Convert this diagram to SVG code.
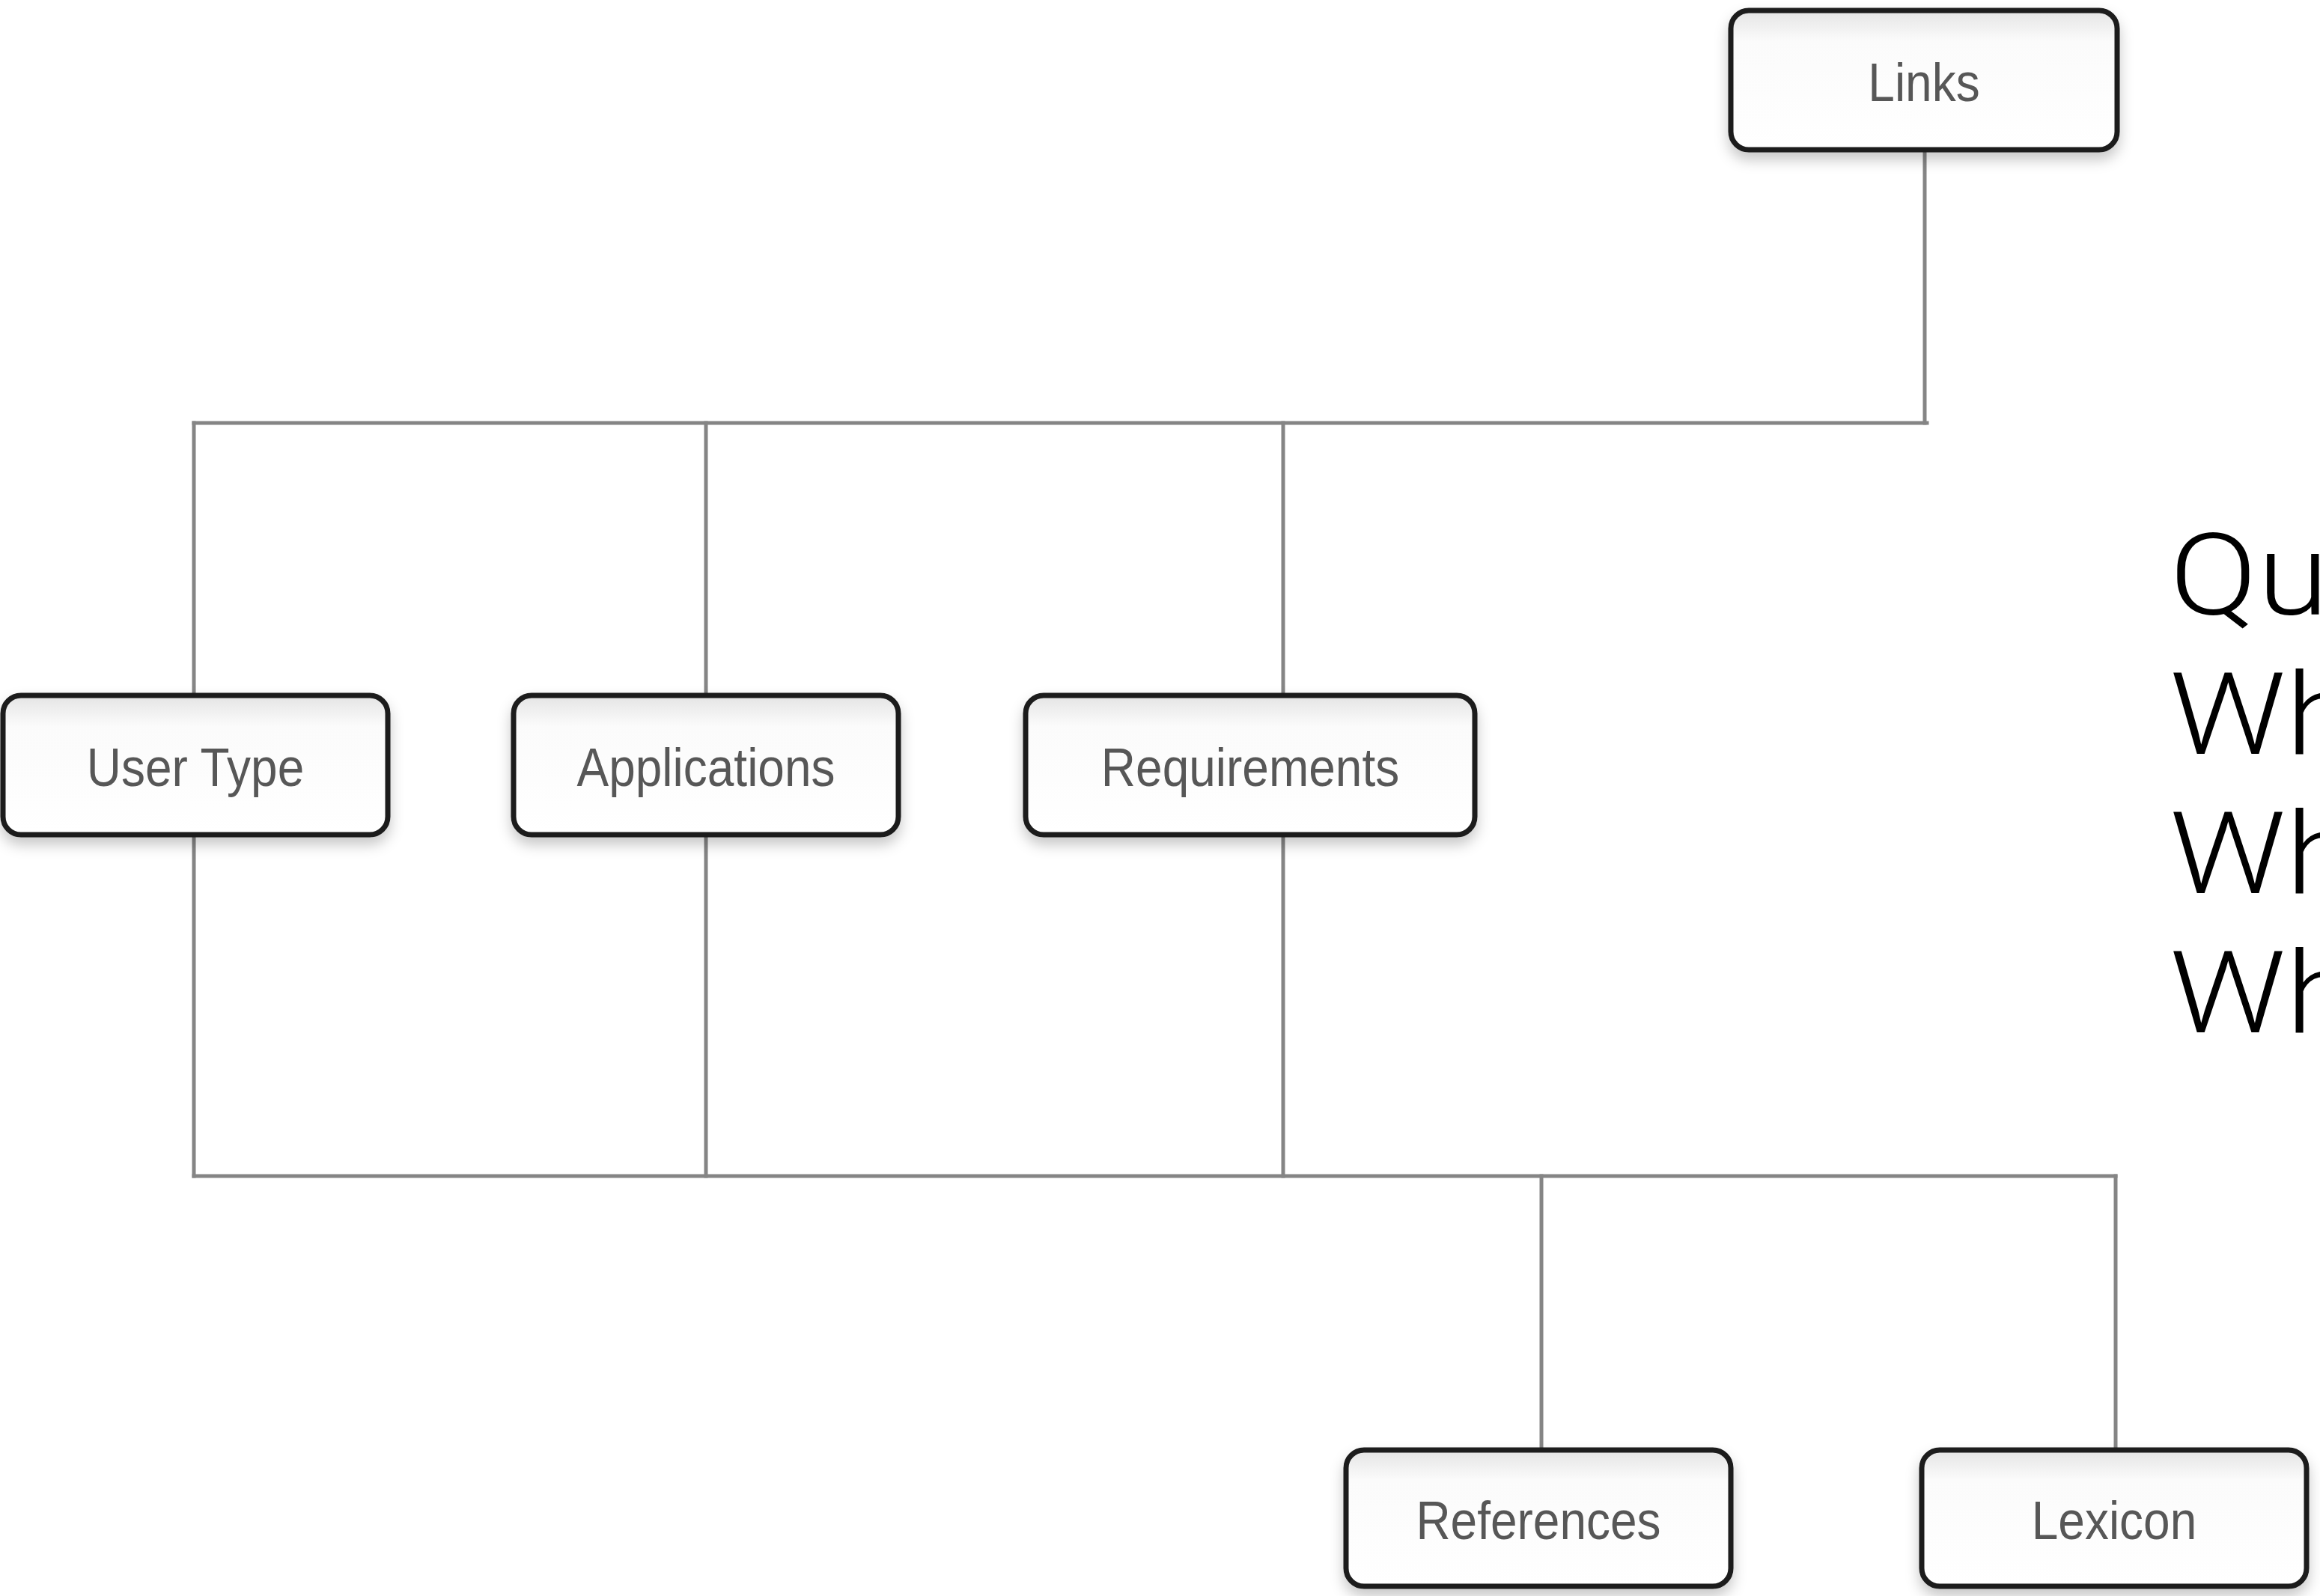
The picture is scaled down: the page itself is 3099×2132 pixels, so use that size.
<svg xmlns="http://www.w3.org/2000/svg" width="3099" height="2132" viewBox="0 0 3099 2132">
  <style>
    .box { fill: url(#boxfill); stroke: #1a1a1a; stroke-width: 7; filter: url(#shadow); }
    .lbl { font-family: "Liberation Sans", Arial, Helvetica, sans-serif; font-size: 64px; fill: #575757; text-anchor: middle; }
    .conn { stroke: #858585; stroke-width: 5; fill: none; stroke-linecap: square; }
    .side { font-family: Roboto, "Liberation Sans", sans-serif; font-weight: 300; font-size: 152px; fill: #000; }
  </style>
  <defs>
    <linearGradient id="boxfill" x1="0" y1="0" x2="0" y2="1">
      <stop offset="0" stop-color="#e4e4e4"/>
      <stop offset="0.22" stop-color="#fbfbfb"/>
      <stop offset="1" stop-color="#ffffff"/>
    </linearGradient>
    <filter id="shadow" x="-10%" y="-10%" width="120%" height="140%">
      <feDropShadow dx="0" dy="10" stdDeviation="9" flood-color="#000" flood-opacity="0.22"/>
    </filter>
  </defs>
  <rect x="0" y="0" width="3099" height="2132" fill="#ffffff"/>

  <g id="connectors">
    <line class="conn" x1="2571" y1="200" x2="2571" y2="565"/>
    <line class="conn" x1="259" y1="565" x2="2574" y2="565"/>
    <line class="conn" x1="259" y1="565" x2="259" y2="929"/>
    <line class="conn" x1="943" y1="565" x2="943" y2="929"/>
    <line class="conn" x1="1714" y1="565" x2="1714" y2="929"/>
    <line class="conn" x1="259" y1="1115" x2="259" y2="1571"/>
    <line class="conn" x1="943" y1="1115" x2="943" y2="1571"/>
    <line class="conn" x1="1714" y1="1115" x2="1714" y2="1571"/>
    <line class="conn" x1="259" y1="1571" x2="2826" y2="1571"/>
    <line class="conn" x1="2059" y1="1571" x2="2059" y2="1937"/>
    <line class="conn" x1="2826" y1="1571" x2="2826" y2="1937"/>
  </g>

  <g id="node-links">
    <rect class="box" x="2312" y="14" width="516" height="186" rx="24"/>
    <text class="lbl" transform="translate(2570,135) scale(1,1.12)">Links</text>
  </g>
  <g id="node-usertype">
    <rect class="box" x="4" y="929" width="514" height="186" rx="24"/>
    <text class="lbl" transform="translate(261,1050) scale(1,1.12)">User Type</text>
  </g>
  <g id="node-applications">
    <rect class="box" x="686" y="929" width="514" height="186" rx="24"/>
    <text class="lbl" transform="translate(943,1050) scale(1,1.12)">Applications</text>
  </g>
  <g id="node-requirements">
    <rect class="box" x="1370" y="929" width="600" height="186" rx="24"/>
    <text class="lbl" transform="translate(1670,1050) scale(1,1.12)">Requirements</text>
  </g>
  <g id="node-references">
    <rect class="box" x="1798" y="1937" width="514" height="182" rx="24"/>
    <text class="lbl" transform="translate(2055,2056) scale(1,1.12)">References</text>
  </g>
  <g id="node-lexicon">
    <rect class="box" x="2567" y="1937" width="514" height="182" rx="24"/>
    <text class="lbl" transform="translate(2824,2056) scale(1,1.12)">Lexicon</text>
  </g>

  <g id="side-text" transform="translate(2898,0) scale(1.14,1)">
    <text class="side" x="0" y="821">Qu</text>
    <text class="side" x="0" y="1007">Wh</text>
    <text class="side" x="0" y="1193">Wh</text>
    <text class="side" x="0" y="1379">Wh</text>
  </g>
</svg>
